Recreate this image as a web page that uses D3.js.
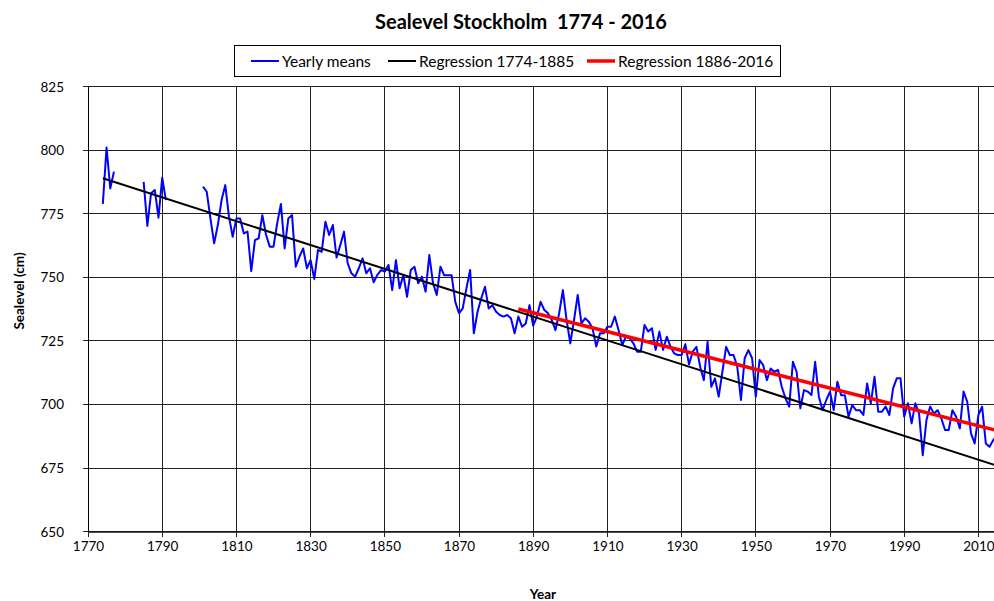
<!DOCTYPE html>
<html lang="en">
  <head>
    <title>Sealevel Stockholm</title>
    <meta charset="utf-8" />
    <script src="https://d3js.org/d3.v7.min.js"></script>
    <style>
      body { margin: 0; background: #fff; }
      text { font-family: Lato, "Open Sans", sans-serif; fill: #000; }
    </style>
  </head>
  <body>
    <svg width="994" height="601" xmlns="http://www.w3.org/2000/svg" id="target"></svg>
    <script>
        // yearly means (gaps 1778-1784 and 1792-1800)
        const years1 = [1774, 1775, 1776, 1777];
        const values1 = [778.9, 801.1, 785.0, 791.6];
        const years2 = [1785, 1786, 1787, 1788, 1789, 1790, 1791];
        const values2 = [787.6, 770.3, 783.1, 784.4, 773.5, 789.2, 780.4];
        const firstYear3 = 1801;
        const values3 = [
          785.7, 783.7, 773.2, 763.4, 770.6, 780.4, 786.3, 773.9, 766.0, 773.2,
          773.2, 767.3, 768.0, 752.5, 764.7, 765.4, 774.5, 766.7, 762.1, 762.1,
          771.3, 778.9, 761.4, 773.2, 774.5, 754.2, 758.2, 761.4, 753.6, 756.8,
          749.4, 760.8, 760.1, 771.9, 766.7, 770.6, 757.8, 762.7, 768.0, 755.5,
          751.6, 750.3, 753.6, 757.5, 751.6, 753.6, 748.1, 751.0, 752.9, 752.3,
          754.9, 745.0, 756.8, 745.7, 751.0, 742.4, 752.9, 754.2, 747.7, 750.3,
          744.4, 758.8, 747.7, 743.1, 754.2, 750.9, 750.9, 750.9, 740.4, 735.9,
          737.8, 745.7, 752.9, 728.0, 736.5, 741.8, 746.3, 737.8, 739.1, 736.5,
          735.2, 734.6, 735.2, 733.9, 728.0, 734.6, 730.6, 731.9, 739.1, 731.0,
          734.6, 740.4, 737.2, 735.9, 733.2, 729.3, 735.9, 745.0, 733.2, 724.1,
          733.2, 743.1, 731.9, 733.9, 732.6, 730.0, 722.8, 728.0, 728.0, 730.6,
          730.6, 734.6, 729.3, 723.4, 726.7, 726.0, 724.1, 720.8, 720.8, 731.3,
          728.7, 730.0, 721.5, 728.7, 721.5, 726.7, 722.8, 720.1, 719.5, 719.5,
          723.7, 715.8, 720.8, 722.7, 714.9, 709.6, 724.7, 707.0, 710.3, 703.1,
          712.9, 722.7, 719.5, 719.5, 714.9, 701.8, 718.2, 721.4, 718.2, 703.1,
          717.5, 715.5, 709.6, 714.2, 712.9, 713.6, 707.0, 702.4, 699.2, 716.8,
          712.9, 698.5, 705.7, 705.1, 703.7, 716.8, 703.1, 697.8, 701.8, 705.1,
          697.8, 709.0, 703.7, 703.7, 695.2, 699.8, 697.8, 697.8, 695.9, 708.3,
          700.5, 710.9, 697.2, 697.2, 699.2, 695.9, 706.4, 710.3, 710.3, 695.2,
          700.5, 692.6, 700.5, 696.5, 680.1, 693.9, 699.2, 696.5, 697.8, 694.6,
          690.0, 690.0, 697.8, 695.2, 690.6, 705.1, 701.1, 688.7, 684.7, 695.9,
          699.2, 684.7, 683.4, 686.0, 688.0, 690.0
        ];
        // regression end points
        const reg1Years = [1774, 2016];
        const reg1Values = [789.0, 675.5];
        const reg2Years = [1886, 2016];
        const reg2Values = [737.6, 689.4];

        const xTicks = [1770, 1790, 1810, 1830, 1850, 1870, 1890, 1910, 1930, 1950, 1970, 1990, 2010];
        const yTicks = [650, 675, 700, 725, 750, 775, 800, 825];
        const legendLabels = ["Yearly means", "Regression 1774-1885", "Regression 1886-2016"];
        const legendColors = ["#0000ff", "#000000", "#ff0000"];

        const plot = { left: 88, top: 86.7, bottom: 531.7, right: 1015.5 };

        const svg = d3.select("#target");
        const x = d3.scaleLinear().domain([1770, 2020]).range([plot.left, plot.right]);
        const y = d3.scaleLinear().domain([650, 825]).range([plot.bottom, plot.top]);

        // grid
        svg.append("g")
          .selectAll("line.hgrid")
          .data(yTicks)
          .enter()
          .append("line")
          .attr("class", "hgrid")
          .attr("x1", plot.left - 5)
          .attr("x2", plot.right)
          .attr("y1", d => y(d))
          .attr("y2", d => y(d))
          .attr("stroke", "#222")
          .attr("shape-rendering", "crispEdges")
        ;
        svg.append("g")
          .selectAll("line.vgrid")
          .data(xTicks)
          .enter()
          .append("line")
          .attr("class", "vgrid")
          .attr("x1", d => x(d))
          .attr("x2", d => x(d))
          .attr("y1", plot.top)
          .attr("y2", plot.bottom + 5)
          .attr("stroke", "#222")
          .attr("shape-rendering", "crispEdges")
        ;

        // axes (labels only, lines come from grid)
        const yAxis = svg.append("g")
          .attr("transform", "translate(" + plot.left + ",0)")
          .call(d3.axisLeft(y).tickValues(yTicks).tickSize(0).tickPadding(24));
        const xAxis = svg.append("g")
          .attr("transform", "translate(0," + plot.bottom + ")")
          .call(d3.axisBottom(x).tickValues(xTicks).tickSize(0).tickPadding(10).tickFormat(d3.format("d")));
        [yAxis, xAxis].forEach(a => {
          a.select(".domain").attr("stroke", "#000");
          a.selectAll("text").style("font-size", "13.5px").style("font-family", "Lato, sans-serif");
        });

        // clip the data to the plot
        svg.append("clipPath").attr("id", "clip")
          .append("rect")
          .attr("x", plot.left).attr("y", plot.top)
          .attr("width", plot.right - plot.left).attr("height", plot.bottom - plot.top);

        const line = d3.line().x(d => x(d[0])).y(d => y(d[1]));
        const seg1 = years1.map((yr, i) => [yr, values1[i]]);
        const seg2 = years2.map((yr, i) => [yr, values2[i]]);
        const seg3 = values3.map((v, i) => [firstYear3 + i, v]);

        const data_g = svg.append("g").attr("clip-path", "url(#clip)");
        data_g.selectAll("path.yearly")
          .data([seg1, seg2, seg3])
          .enter()
          .append("path")
          .attr("class", "yearly")
          .attr("d", line)
          .attr("fill", "none")
          .attr("stroke", "#0000ff")
          .attr("stroke-width", 2)
          .attr("stroke-linejoin", "round")
        ;
        data_g.append("path")
          .datum(reg1Years.map((yr, i) => [yr, reg1Values[i]]))
          .attr("d", line)
          .attr("fill", "none")
          .attr("stroke", "#000")
          .attr("stroke-width", 2)
        ;
        data_g.append("path")
          .datum(reg2Years.map((yr, i) => [yr, reg2Values[i]]))
          .attr("d", line)
          .attr("fill", "none")
          .attr("stroke", "#ff0000")
          .attr("stroke-width", 3.5)
        ;

        // title
        svg.append("text")
          .attr("x", 521).attr("y", 29)
          .attr("text-anchor", "middle")
          .attr("xml:space", "preserve")
          .style("white-space", "pre")
          .style("font-size", "20px").style("font-weight", "bold")
          .text("Sealevel Stockholm  1774 - 2016");

        // legend
        svg.append("rect")
          .attr("x", 234.5).attr("y", 45.5).attr("width", 546).attr("height", 31)
          .attr("fill", "#fff").attr("stroke", "#000");
        const legendX = [251, 388, 587];
        const legend = svg.selectAll("g.legend")
          .data(legendLabels)
          .enter()
          .append("g")
          .attr("class", "legend")
          .attr("transform", (d, i) => "translate(" + legendX[i] + ",61)");
        legend.append("line")
          .attr("x1", 0).attr("x2", 28).attr("y1", 0).attr("y2", 0)
          .attr("stroke", (d, i) => legendColors[i])
          .attr("stroke-width", (d, i) => i == 2 ? 3.5 : 2);
        legend.append("text")
          .attr("x", 31).attr("y", 5.5)
          .style("font-size", "15.5px")
          .text(d => d);

        // axis titles
        svg.append("text")
          .attr("x", 543).attr("y", 599)
          .attr("text-anchor", "middle")
          .style("font-size", "13.5px").style("font-weight", "bold")
          .text("Year");
        svg.append("text")
          .attr("transform", "translate(24,291) rotate(-90)")
          .attr("text-anchor", "middle")
          .style("font-size", "13.5px").style("font-weight", "bold")
          .text("Sealevel (cm)");
    </script>
</body>
</html>
